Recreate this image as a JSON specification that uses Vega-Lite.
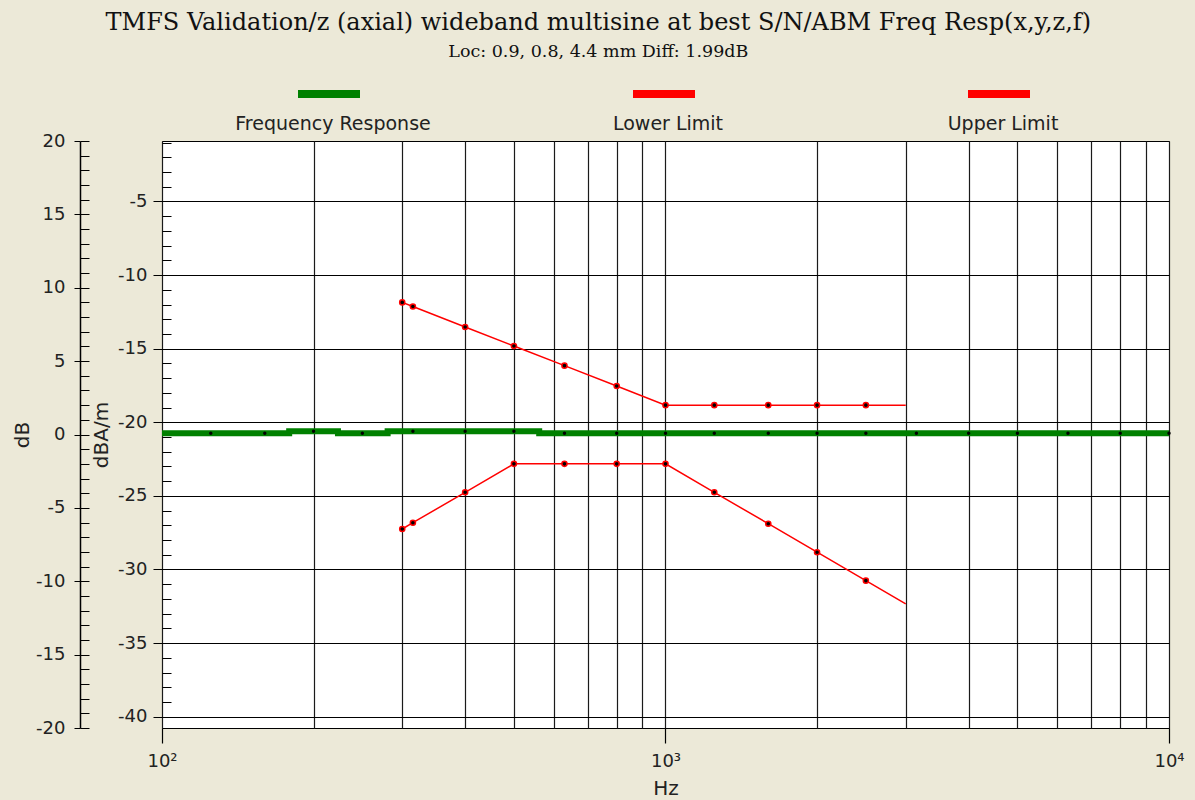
{
  "$schema": "https://vega.github.io/schema/vega-lite/v6.json",
  "width": 1007,
  "height": 587,
  "autosize": {"type": "none"},
  "padding": {"left": 162, "top": 141, "right": 26, "bottom": 72},
  "background": "#ECE9D8",
  "title": {
    "text": "TMFS Validation/z (axial) wideband multisine at best S/N/ABM Freq Resp(x,y,z,f)",
    "subtitle": "Loc: 0.9, 0.8, 4.4 mm Diff: 1.99dB",
    "anchor": "middle",
    "frame": "bounds",
    "font": "DejaVu Serif",
    "fontSize": 24,
    "fontWeight": "normal",
    "color": "#111111",
    "subtitleFont": "DejaVu Serif",
    "subtitleFontSize": 17.5,
    "subtitleColor": "#111111",
    "subtitlePadding": 8,
    "offset": -1
  },
  "config": {
    "view": {"fill": "white", "stroke": "black", "strokeWidth": 1},
    "axis": {
      "labelFont": "DejaVu Sans",
      "labelFontSize": 18,
      "labelColor": "#222222",
      "titleFont": "DejaVu Sans",
      "titleFontSize": 20,
      "titleFontWeight": "normal",
      "titleColor": "#222222",
      "tickColor": "black",
      "domainColor": "black",
      "gridColor": "black",
      "gridOpacity": 1
    }
  },
  "datasets": {
    "fr": [
      {"freq": 100, "level": -20.75, "series": "Frequency Response"},
      {"freq": 125, "level": -20.75, "series": "Frequency Response"},
      {"freq": 160, "level": -20.75, "series": "Frequency Response"},
      {"freq": 200, "level": -20.61, "series": "Frequency Response"},
      {"freq": 250, "level": -20.75, "series": "Frequency Response"},
      {"freq": 315, "level": -20.61, "series": "Frequency Response"},
      {"freq": 400, "level": -20.61, "series": "Frequency Response"},
      {"freq": 500, "level": -20.61, "series": "Frequency Response"},
      {"freq": 630, "level": -20.75, "series": "Frequency Response"},
      {"freq": 800, "level": -20.75, "series": "Frequency Response"},
      {"freq": 1000, "level": -20.75, "series": "Frequency Response"},
      {"freq": 1250, "level": -20.75, "series": "Frequency Response"},
      {"freq": 1600, "level": -20.75, "series": "Frequency Response"},
      {"freq": 2000, "level": -20.75, "series": "Frequency Response"},
      {"freq": 2500, "level": -20.75, "series": "Frequency Response"},
      {"freq": 3150, "level": -20.75, "series": "Frequency Response"},
      {"freq": 4000, "level": -20.75, "series": "Frequency Response"},
      {"freq": 5000, "level": -20.75, "series": "Frequency Response"},
      {"freq": 6300, "level": -20.75, "series": "Frequency Response"},
      {"freq": 8000, "level": -20.75, "series": "Frequency Response"},
      {"freq": 10000, "level": -20.75, "series": "Frequency Response"}
    ],
    "limits": [
      {"freq": 300, "db": -6.44, "series": "Lower Limit"},
      {"freq": 315, "db": -6.01, "series": "Lower Limit"},
      {"freq": 400, "db": -3.94, "series": "Lower Limit"},
      {"freq": 500, "db": -2.0, "series": "Lower Limit"},
      {"freq": 630, "db": -2.0, "series": "Lower Limit"},
      {"freq": 800, "db": -2.0, "series": "Lower Limit"},
      {"freq": 1000, "db": -2.0, "series": "Lower Limit"},
      {"freq": 1250, "db": -3.94, "series": "Lower Limit"},
      {"freq": 1600, "db": -6.08, "series": "Lower Limit"},
      {"freq": 2000, "db": -8.02, "series": "Lower Limit"},
      {"freq": 2500, "db": -9.96, "series": "Lower Limit"},
      {"freq": 3000, "db": -11.54, "series": "Lower Limit"},
      {"freq": 300, "db": 9.0, "series": "Upper Limit"},
      {"freq": 315, "db": 8.72, "series": "Upper Limit"},
      {"freq": 400, "db": 7.33, "series": "Upper Limit"},
      {"freq": 500, "db": 6.03, "series": "Upper Limit"},
      {"freq": 630, "db": 4.69, "series": "Upper Limit"},
      {"freq": 800, "db": 3.3, "series": "Upper Limit"},
      {"freq": 1000, "db": 2.0, "series": "Upper Limit"},
      {"freq": 1250, "db": 2.0, "series": "Upper Limit"},
      {"freq": 1600, "db": 2.0, "series": "Upper Limit"},
      {"freq": 2000, "db": 2.0, "series": "Upper Limit"},
      {"freq": 2500, "db": 2.0, "series": "Upper Limit"},
      {"freq": 3000, "db": 2.0, "series": "Upper Limit"}
    ]
  },
  "layer": [
    {
      "data": {"name": "fr"},
      "mark": {"type": "line", "interpolate": "step", "strokeWidth": 6, "strokeCap": "butt", "clip": true},
      "encoding": {
        "x": {
          "field": "freq", "type": "quantitative",
          "scale": {"type": "log", "domain": [100, 10000], "nice": false},
          "axis": {
            "orient": "bottom",
            "values": [100, 200, 300, 400, 500, 600, 700, 800, 900, 1000, 2000, 3000, 4000, 5000, 6000, 7000, 8000, 9000, 10000],
            "grid": true, "gridColor": "#1a1a1a", "gridWidth": 1.2,
            "ticks": false, "labels": false, "domain": false, "title": null
          }
        },
        "y": {
          "field": "level", "type": "quantitative",
          "scale": {"domain": [-40.77, -0.89], "nice": false, "zero": false},
          "axis": {
            "orient": "left",
            "values": [-5, -10, -15, -20, -25, -30, -35, -40],
            "labelExpr": "datum.value + ''",
            "grid": true, "gridWidth": 1,
            "tickSize": 9, "tickWidth": 1, "labelPadding": 6,
            "domain": false,
            "title": "dBA/m", "titlePadding": 6
          }
        },
        "color": {
          "field": "series", "type": "nominal",
          "scale": {"domain": ["Frequency Response", "Lower Limit", "Upper Limit"], "range": ["#008000", "#FF0000", "#FF0000"]},
          "legend": {
            "orient": "none", "legendX": 132, "legendY": -82,
            "direction": "horizontal", "columns": 3, "title": null,
            "symbolType": "stroke", "symbolSize": 3844, "symbolStrokeWidth": 8,
            "labelFont": "DejaVu Sans", "labelFontSize": 19, "labelColor": "#222222",
            "labelAlign": "center", "labelBaseline": "top", "labelOffset": -31, "labelLimit": 400,
            "labelExpr": "datum.label == 'Frequency Response' ? ['', datum.label] : ['', '\u200b\u00a0\u00a0\u00a0\u00a0\u00a0\u00a0\u00a0' + datum.label + '\u00a0\u00a0\u00a0\u00a0\u00a0\u00a0\u00a0\u200b']",
            "columnPadding": 139
          }
        }
      }
    },
    {
      "data": {"name": "fr"},
      "transform": [{"filter": "datum.freq >= 125"}],
      "mark": {"type": "point", "shape": "circle", "filled": true, "color": "black", "size": 12, "opacity": 1},
      "encoding": {
        "x": {
          "field": "freq", "type": "quantitative",
          "scale": {"type": "log", "domain": [100, 10000], "nice": false},
          "axis": {
            "orient": "bottom",
            "values": [100, 1000, 10000],
            "grid": false, "domain": false,
            "tickSize": 15, "tickWidth": 1.2,
            "labelExpr": "datum.value == 100 ? '10²' : datum.value == 1000 ? '10³' : '10⁴'",
            "labelPadding": 9, "labelFlush": false, "labelOverlap": false, "labelBound": false,
            "title": "Hz", "titlePadding": 8
          }
        },
        "y": {
          "field": "level", "type": "quantitative",
          "scale": {"domain": [-40.77, -0.89], "nice": false, "zero": false},
          "axis": {
            "orient": "left",
            "values": [-1, -2, -3, -4, -5, -6, -7, -8, -9, -10, -11, -12, -13, -14, -15, -16, -17, -18, -19, -20, -21, -22, -23, -24, -25, -26, -27, -28, -29, -30, -31, -32, -33, -34, -35, -36, -37, -38, -39, -40],
            "grid": false, "labels": false, "domain": false,
            "tickSize": -9, "tickWidth": 1, "title": null
          }
        }
      }
    },
    {
      "data": {"name": "limits"},
      "mark": {"type": "line", "strokeWidth": 1.5, "clip": true},
      "encoding": {
        "x": {"field": "freq", "type": "quantitative", "scale": {"type": "log", "domain": [100, 10000], "nice": false}, "axis": null},
        "y": {
          "field": "db", "type": "quantitative",
          "scale": {"domain": [-20, 20], "nice": false, "zero": false},
          "axis": {
            "orient": "left", "offset": 82,
            "values": [-20, -15, -10, -5, 0, 5, 10, 15, 20],
            "labelExpr": "datum.value + ''",
            "grid": false, "domain": true, "domainWidth": 1.5,
            "tickSize": 6, "tickWidth": 1, "labelPadding": 9,
            "title": "dB", "titlePadding": 3
          }
        },
        "color": {"field": "series", "type": "nominal"}
      }
    },
    {
      "data": {"name": "limits"},
      "transform": [{"filter": "datum.freq < 3000"}],
      "mark": {"type": "point", "shape": "circle", "filled": true, "fill": "black", "stroke": "#FF0000", "strokeWidth": 1.5, "size": 26, "opacity": 1},
      "encoding": {
        "x": {"field": "freq", "type": "quantitative", "scale": {"type": "log", "domain": [100, 10000], "nice": false}, "axis": null},
        "y": {
          "field": "db", "type": "quantitative",
          "scale": {"domain": [-20, 20], "nice": false, "zero": false},
          "axis": {
            "orient": "left", "offset": 82,
            "values": [-20, -19, -18, -17, -16, -15, -14, -13, -12, -11, -10, -9, -8, -7, -6, -5, -4, -3, -2, -1, 0, 1, 2, 3, 4, 5, 6, 7, 8, 9, 10, 11, 12, 13, 14, 15, 16, 17, 18, 19, 20],
            "grid": false, "labels": false, "domain": false,
            "tickSize": -9, "tickWidth": 1, "title": null
          }
        }
      }
    }
  ],
  "resolve": {"scale": {"y": "independent"}, "axis": {"x": "independent", "y": "independent"}}
}
